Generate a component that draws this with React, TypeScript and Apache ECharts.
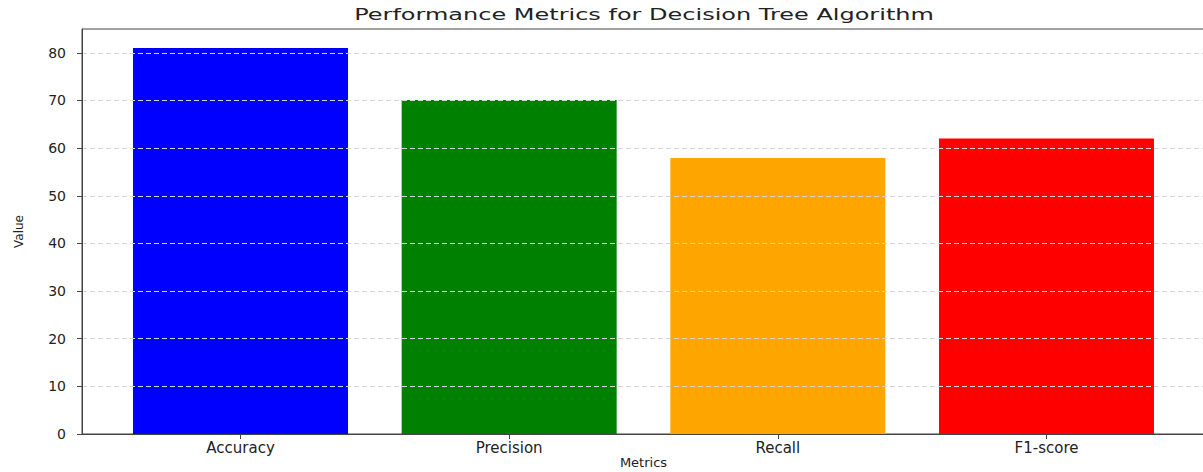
import React, { useEffect, useRef } from "react";
import * as echarts from "echarts";

const categories = ["Accuracy", "Precision", "Recall", "F1-score"];
const values = [81.0, 70.1, 57.9, 62.0];
const barColors = ["#0000ff", "#008000", "#ffa500", "#ff0000"];
const yTicks = [0, 10, 20, 30, 40, 50, 60, 70, 80];
const xPositions = [0, 1, 2, 3];
const titleText = "Performance Metrics for Decision Tree Algorithm";

export default function App() {
  const ref = useRef<HTMLDivElement>(null);
  useEffect(() => {
    if (!ref.current) return;
    const chart = echarts.init(ref.current, undefined, { renderer: "svg" });
    const font = "DejaVu Sans";
    chart.setOption({
      animation: false,
      backgroundColor: "#ffffff",
      graphic: [
        {
          type: "text",
          x: 644,
          y: 15,
          scaleX: 1.6,
          z: 10,
          style: {
            text: titleText,
            fontFamily: font,
            fontSize: 15,
            fill: "#222",
            textAlign: "center",
            textVerticalAlign: "middle",
          },
        },
      ],
      grid: {
        left: 82,
        top: 29,
        width: 1123,
        height: 405,
        outerBoundsMode: "none",
        containLabel: false,
        show: true,
        borderColor: "#444",
        borderWidth: 1,
        backgroundColor: "transparent",
      },
      xAxis: {
        type: "value",
        min: -0.59,
        max: 3.59,
        z: 3,
        name: "Metrics",
        nameLocation: "middle",
        nameGap: 22,
        nameMoveOverlap: false,
        nameTextStyle: { fontFamily: font, fontSize: 13, color: "#222" },
        axisLine: { show: true, onZero: false, lineStyle: { color: "#444", width: 1 } },
        axisTick: { show: true, length: 5, customValues: xPositions, lineStyle: { color: "#444" } },
        axisLabel: {
          customValues: xPositions,
          formatter: (v: number) => categories[Math.round(v)] ?? "",
          fontFamily: font,
          fontSize: 15,
          color: "#222",
          margin: 6,
        },
        splitLine: { show: false },
      },
      yAxis: {
        type: "value",
        min: 0,
        max: 85,
        interval: 5,
        z: 3,
        name: "Value",
        nameLocation: "middle",
        nameGap: 57,
        nameMoveOverlap: false,
        nameTextStyle: { fontFamily: font, fontSize: 12, color: "#222" },
        axisLine: { show: true, onZero: false, lineStyle: { color: "#444", width: 1 } },
        axisTick: { show: true, length: 5, customValues: yTicks, lineStyle: { color: "#444" } },
        axisLabel: {
          customValues: yTicks,
          fontFamily: font,
          fontSize: 14,
          color: "#222",
          margin: 16,
        },
        splitLine: {
          show: true,
          lineStyle: { color: "#d5d5d5", type: [5, 3], width: 1 },
        },
      },
      series: [
        {
          type: "bar",
          barWidth: 215,
          data: xPositions.map((x, i) => ({
            value: [x, values[i]],
            itemStyle: { color: barColors[i] },
          })),
        },
      ],
    });
    return () => chart.dispose();
  }, []);
  return (
    <div
      ref={ref}
      style={{ position: "absolute", left: 0, top: 0, width: 1203, height: 472 }}
    />
  );
}
